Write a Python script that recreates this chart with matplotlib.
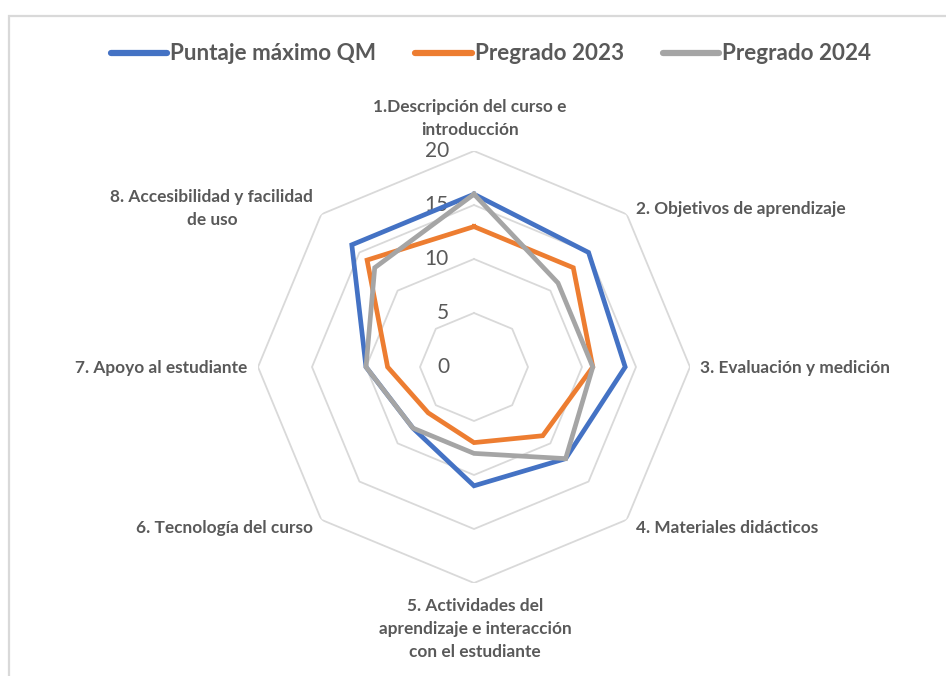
import numpy as np
import matplotlib
matplotlib.use("Agg")
import matplotlib.pyplot as plt
from matplotlib.transforms import offset_copy
from matplotlib.patches import Rectangle
from matplotlib.lines import Line2D

plt.rcParams['font.family'] = ['Lato', 'DejaVu Sans']

categories = [
    "1.Descripción del curso e\nintroducción",
    "2. Objetivos de aprendizaje",
    "3. Evaluación y medición",
    "4. Materiales didácticos",
    "5. Actividades del\naprendizaje e interacción\ncon el estudiante",
    "6. Tecnología del curso",
    "7. Apoyo al estudiante",
    "8. Accesibilidad y facilidad\nde uso",
]
series_names = ["Puntaje máximo QM", "Pregrado 2023", "Pregrado 2024"]
puntaje_qm = [16, 15, 14, 12, 11, 8, 10, 16]
pregrado_2023 = [13, 13, 11, 9, 7, 6, 8, 14]
pregrado_2024 = [16, 11, 11, 12, 8, 8, 10, 13]
ring_values = [5, 10, 15, 20]
tick_labels = ["0", "5", "10", "15", "20"]
tick_values = [0, 5, 10, 15, 20]

colors = ["#4472C4", "#ED7D31", "#A5A5A5"]
text_color = "#595959"

W, H = 946, 676
fig = plt.figure(figsize=(W / 100, H / 100), dpi=100)
fig.patch.set_facecolor("white")

# chart border
fig.patches.append(Rectangle((9 / W, -0.05), 1.2, (H - 16) / H + 0.05,
                             transform=fig.transFigure, fill=False,
                             edgecolor="#d9d9d9", linewidth=1.6))

cx, cy, R = 474, 367, 216
ax = fig.add_axes([(cx - R) / W, (H - cy - R) / H, 2 * R / W, 2 * R / H],
                  projection="polar")
ax.set_theta_zero_location("N")
ax.set_theta_direction(-1)
ax.set_ylim(0, 20)
ax.grid(False)
ax.spines["polar"].set_visible(False)
ax.set_xticks([])
ax.set_yticks([])
ax.patch.set_alpha(0)

n = len(categories)
angles = np.linspace(0, 2 * np.pi, n, endpoint=False)
closed = np.concatenate([angles, angles[:1]])

for rv in ring_values:
    ax.plot(closed, [rv] * (n + 1), color="#d9d9d9", lw=1.3, zorder=1)

for vals, c in zip([puntaje_qm, pregrado_2023, pregrado_2024], colors):
    ax.plot(closed, list(vals) + [vals[0]], color=c, lw=3.4, zorder=3,
            solid_joinstyle="miter")

# radial tick labels
for v, lab in zip(tick_values, tick_labels):
    tr = offset_copy(ax.transData, fig=fig, x=-25, y=0, units="dots")
    ax.text(0, v, lab, transform=tr, ha="right", va="center",
            fontsize=15, color=text_color, zorder=2)

# category labels
offsets = [(-4, 13, "center", "bottom"),
           (9, 5, "left", "center"),
           (10, -1, "left", "center"),
           (9, -8, "left", "center"),
           (1, -15, "center", "top"),
           (-8, -8, "right", "center"),
           (-11, -1, "right", "center"),
           (-8, 6, "right", "center")]
for ang, lab, (dx, dy, ha, va) in zip(angles, categories, offsets):
    tr = offset_copy(ax.transData, fig=fig, x=dx, y=dy, units="dots")
    ax.text(ang, 20, lab, transform=tr, ha=ha, va=va, multialignment="center",
            fontsize=12.4, fontweight="bold", color=text_color,
            linespacing=1.55)

handles = [Line2D([], [], color=c, lw=4.5, solid_capstyle="round") for c in colors]
leg = fig.legend(handles, series_names, loc="center", bbox_to_anchor=(491 / W, 1 - 54 / H),
                 ncol=3, frameon=False, handlelength=2.5, handletextpad=0.13,
                 columnspacing=1.75, prop={"weight": "bold", "size": 16.2})
for t in leg.get_texts():
    t.set_color(text_color)

fig.savefig("out.png", dpi=100, facecolor="white")
